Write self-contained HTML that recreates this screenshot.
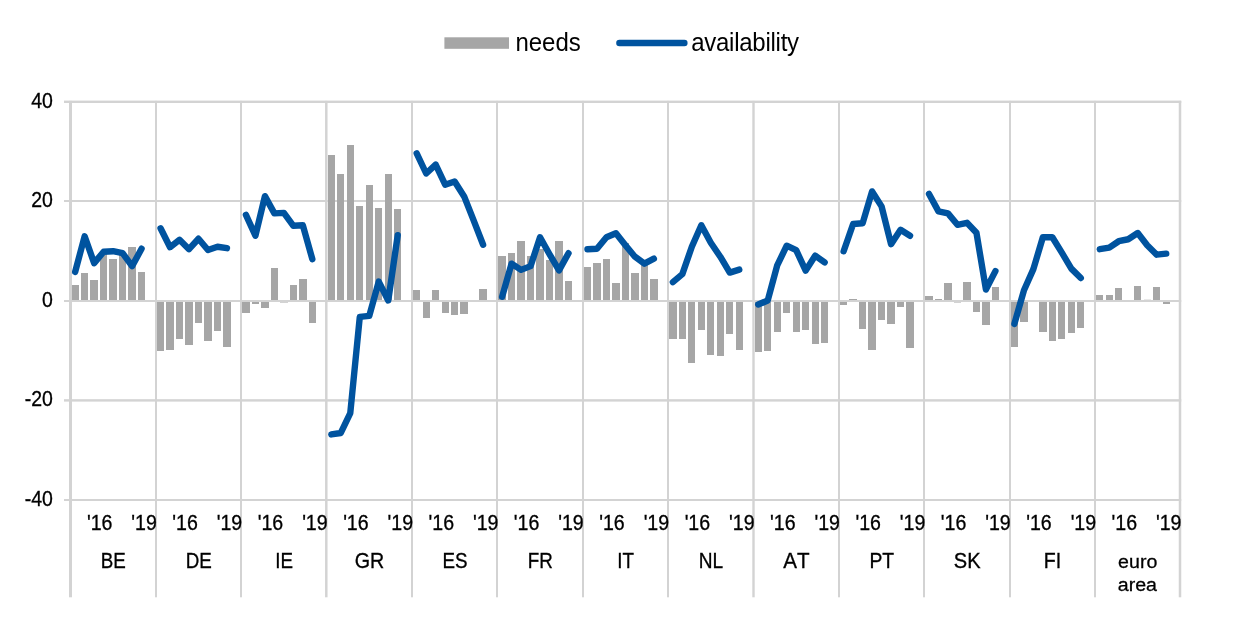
<!DOCTYPE html>
<html lang="en"><head><meta charset="utf-8"><title>needs / availability</title>
<style>html,body{margin:0;padding:0;background:#fff;}body{width:1240px;height:638px;overflow:hidden;}svg{display:block;will-change:transform;}text{font-family:"Liberation Sans",Arial,Helvetica,sans-serif;fill:#000;font-kerning:none;}.ax{font-size:20px;stroke:#000;stroke-width:0.3px;}.lg{font-size:24px;}</style></head><body>
<svg width="1240" height="638" viewBox="0 0 1240 638">
<rect x="0" y="0" width="1240" height="638" fill="#ffffff"/>
<g fill="#d3d3d3">
<rect x="64" y="100.60" width="1117.25" height="2.4"/>
<rect x="64" y="200.00" width="1117.25" height="2.0"/>
<rect x="64" y="300.00" width="1117.25" height="2.0"/>
<rect x="64" y="399.20" width="1117.25" height="2.4"/>
<rect x="64" y="499.00" width="1117.25" height="2.0"/>
<rect x="69.00" y="100.90" width="3.0" height="496.40"/>
<rect x="155.00" y="100.90" width="2" height="496.40"/>
<rect x="240.00" y="100.90" width="2" height="496.40"/>
<rect x="325.05" y="100.90" width="2.5" height="496.40"/>
<rect x="411.00" y="100.90" width="2" height="496.40"/>
<rect x="496.00" y="100.90" width="2" height="496.40"/>
<rect x="582.00" y="100.90" width="2" height="496.40"/>
<rect x="667.00" y="100.90" width="2" height="496.40"/>
<rect x="752.30" y="100.90" width="2.4" height="496.40"/>
<rect x="838.00" y="100.90" width="2" height="496.40"/>
<rect x="923.00" y="100.90" width="2" height="496.40"/>
<rect x="1009.00" y="100.90" width="2" height="496.40"/>
<rect x="1094.00" y="100.90" width="2" height="496.40"/>
<rect x="1178.75" y="100.90" width="2.5" height="496.40"/>
</g>
<g fill="#a6a6a6">
<rect x="72" y="285" width="7" height="15"/>
<rect x="81" y="273" width="7" height="27"/>
<rect x="90" y="280" width="8" height="20"/>
<rect x="100" y="254" width="7" height="46"/>
<rect x="109" y="259" width="8" height="41"/>
<rect x="119" y="254" width="7" height="46"/>
<rect x="128" y="247" width="8" height="53"/>
<rect x="138" y="272" width="7" height="28"/>
<rect x="157" y="302" width="7" height="49"/>
<rect x="166" y="302" width="8" height="48"/>
<rect x="176" y="302" width="7" height="37"/>
<rect x="185" y="302" width="8" height="43"/>
<rect x="195" y="302" width="7" height="21"/>
<rect x="204" y="302" width="8" height="39"/>
<rect x="214" y="302" width="7" height="29"/>
<rect x="223" y="302" width="8" height="45"/>
<rect x="242" y="302" width="8" height="11"/>
<rect x="252" y="302" width="7" height="2"/>
<rect x="261" y="302" width="8" height="6"/>
<rect x="271" y="268" width="7" height="32"/>
<rect x="280" y="302" width="8" height="0.494"/>
<rect x="290" y="285" width="7" height="15"/>
<rect x="299" y="279" width="8" height="21"/>
<rect x="309" y="302" width="7" height="21"/>
<rect x="328" y="155" width="7" height="145"/>
<rect x="337" y="174" width="7" height="126"/>
<rect x="347" y="145" width="7" height="155"/>
<rect x="356" y="206" width="7" height="94"/>
<rect x="366" y="185" width="7" height="115"/>
<rect x="375" y="208" width="7" height="92"/>
<rect x="385" y="174" width="7" height="126"/>
<rect x="394" y="209" width="7" height="91"/>
<rect x="413" y="290" width="7" height="10"/>
<rect x="423" y="302" width="7" height="16"/>
<rect x="432" y="290" width="7" height="10"/>
<rect x="442" y="302" width="7" height="11"/>
<rect x="451" y="302" width="7" height="13"/>
<rect x="460" y="302" width="8" height="12"/>
<rect x="479" y="289" width="8" height="11"/>
<rect x="498" y="256" width="8" height="44"/>
<rect x="508" y="253" width="7" height="47"/>
<rect x="517" y="241" width="8" height="59"/>
<rect x="527" y="256" width="7" height="44"/>
<rect x="536" y="249" width="8" height="51"/>
<rect x="546" y="260" width="7" height="40"/>
<rect x="555" y="241" width="8" height="59"/>
<rect x="565" y="281" width="7" height="19"/>
<rect x="584" y="267" width="7" height="33"/>
<rect x="593" y="263" width="8" height="37"/>
<rect x="603" y="259" width="7" height="41"/>
<rect x="612" y="283" width="8" height="17"/>
<rect x="622" y="243" width="7" height="57"/>
<rect x="631" y="273" width="8" height="27"/>
<rect x="641" y="265" width="7" height="35"/>
<rect x="650" y="279" width="8" height="21"/>
<rect x="669" y="302" width="8" height="37"/>
<rect x="679" y="302" width="7" height="37"/>
<rect x="688" y="302" width="7" height="61"/>
<rect x="698" y="302" width="7" height="28"/>
<rect x="707" y="302" width="7" height="53"/>
<rect x="717" y="302" width="7" height="54"/>
<rect x="726" y="302" width="7" height="32"/>
<rect x="736" y="302" width="7" height="48"/>
<rect x="755" y="302" width="7" height="50"/>
<rect x="764" y="302" width="7" height="49"/>
<rect x="774" y="302" width="7" height="30"/>
<rect x="783" y="302" width="7" height="11"/>
<rect x="793" y="302" width="7" height="30"/>
<rect x="802" y="302" width="7" height="28"/>
<rect x="812" y="302" width="7" height="42"/>
<rect x="821" y="302" width="7" height="41"/>
<rect x="840" y="302" width="7" height="3"/>
<rect x="849" y="299" width="8" height="1"/>
<rect x="859" y="302" width="7" height="27"/>
<rect x="868" y="302" width="8" height="48"/>
<rect x="878" y="302" width="7" height="18"/>
<rect x="887" y="302" width="8" height="22"/>
<rect x="897" y="302" width="7" height="5"/>
<rect x="906" y="302" width="8" height="46"/>
<rect x="925" y="296" width="8" height="4"/>
<rect x="935" y="299" width="7" height="1"/>
<rect x="944" y="283" width="8" height="17"/>
<rect x="954" y="302" width="7" height="0.494"/>
<rect x="963" y="282" width="8" height="18"/>
<rect x="973" y="302" width="7" height="10"/>
<rect x="982" y="302" width="8" height="23"/>
<rect x="992" y="287" width="7" height="13"/>
<rect x="1011" y="302" width="7" height="45"/>
<rect x="1020" y="302" width="8" height="20"/>
<rect x="1039" y="302" width="8" height="30"/>
<rect x="1049" y="302" width="7" height="39"/>
<rect x="1058" y="302" width="7" height="37"/>
<rect x="1068" y="302" width="7" height="31"/>
<rect x="1077" y="302" width="7" height="26"/>
<rect x="1096" y="295" width="7" height="5"/>
<rect x="1106" y="295" width="7" height="5"/>
<rect x="1115" y="288" width="7" height="12"/>
<rect x="1134" y="286" width="7" height="14"/>
<rect x="1144" y="299.755" width="7" height="0.245"/>
<rect x="1153" y="287" width="7" height="13"/>
<rect x="1163" y="302" width="7" height="2"/>
</g>
<g stroke="#00539f" stroke-width="6.4" fill="none" stroke-linecap="round" stroke-linejoin="round">
<polyline points="75.16,271.87 84.65,236.26 94.14,263.15 103.63,251.70 113.11,251.20 122.60,253.19 132.09,266.14 141.57,248.71"/>
<polyline points="160.55,228.29 170.04,247.22 179.52,239.75 189.01,249.21 198.50,238.75 207.98,249.95 217.47,246.72 226.96,248.21"/>
<polyline points="245.93,214.85 255.42,235.76 264.91,196.17 274.39,213.35 283.88,212.85 293.37,225.80 302.86,225.30 312.34,259.17"/>
<polyline points="331.32,434.46 340.80,432.97 350.29,413.05 359.78,316.94 369.27,315.94 378.75,281.58 388.24,300.50 397.73,235.26"/>
<polyline points="416.70,153.34 426.19,173.51 435.68,164.55 445.16,184.72 454.65,181.48 464.14,196.42 473.63,220.32 483.11,244.73"/>
<polyline points="502.09,296.77 511.57,263.65 521.06,269.88 530.55,266.14 540.04,237.26 549.52,254.19 559.01,270.37 568.50,253.19"/>
<polyline points="587.47,249.21 596.96,248.71 606.45,237.26 615.93,233.27 625.42,245.22 634.91,256.68 644.39,263.65 653.88,258.67"/>
<polyline points="672.86,282.08 682.34,274.11 691.83,246.72 701.32,225.30 710.80,242.73 720.29,256.68 729.78,272.61 739.27,269.63"/>
<polyline points="758.24,304.49 767.73,300.50 777.21,265.39 786.70,245.72 796.19,250.20 805.68,270.62 815.16,255.68 824.65,262.40"/>
<polyline points="843.63,251.20 853.11,224.06 862.60,223.31 872.09,191.44 881.57,206.38 891.06,244.23 900.55,229.79 910.04,235.76"/>
<polyline points="929.01,193.93 938.50,211.36 947.98,213.35 957.47,224.81 966.96,222.81 976.45,232.77 985.93,289.55 995.42,271.12"/>
<polyline points="1014.39,323.91 1023.88,290.54 1033.37,269.13 1042.86,237.26 1052.34,237.26 1061.83,252.69 1071.32,268.63 1080.80,278.09"/>
<polyline points="1099.78,249.21 1109.27,247.71 1118.75,241.24 1128.24,239.25 1137.73,233.02 1147.21,245.22 1156.70,254.69 1166.19,253.69"/>
</g>
<text class="ax" transform="translate(52.9,107.8) scale(0.975,1.06)" text-anchor="end">40</text>
<text class="ax" transform="translate(52.9,207.0) scale(0.975,1.06)" text-anchor="end">20</text>
<text class="ax" transform="translate(52.9,307.0) scale(0.975,1.06)" text-anchor="end">0</text>
<text class="ax" transform="translate(52.9,406.4) scale(0.975,1.06)" text-anchor="end">-20</text>
<text class="ax" transform="translate(52.9,506.0) scale(0.975,1.06)" text-anchor="end">-40</text>
<text class="ax" transform="translate(99.7,529.6) scale(0.98,1.06)" text-anchor="middle">'16</text>
<text class="ax" transform="translate(144.1,529.6) scale(0.98,1.06)" text-anchor="middle">'19</text>
<text class="ax" transform="translate(113.3,567.7) scale(0.94,1.06)" text-anchor="middle">BE</text>
<text class="ax" transform="translate(185.1,529.6) scale(0.98,1.06)" text-anchor="middle">'16</text>
<text class="ax" transform="translate(229.5,529.6) scale(0.98,1.06)" text-anchor="middle">'19</text>
<text class="ax" transform="translate(198.7,567.7) scale(0.94,1.06)" text-anchor="middle">DE</text>
<text class="ax" transform="translate(270.5,529.6) scale(0.98,1.06)" text-anchor="middle">'16</text>
<text class="ax" transform="translate(314.9,529.6) scale(0.98,1.06)" text-anchor="middle">'19</text>
<text class="ax" transform="translate(284.1,567.7) scale(0.94,1.06)" text-anchor="middle">IE</text>
<text class="ax" transform="translate(355.9,529.6) scale(0.98,1.06)" text-anchor="middle">'16</text>
<text class="ax" transform="translate(400.3,529.6) scale(0.98,1.06)" text-anchor="middle">'19</text>
<text class="ax" transform="translate(369.5,567.7) scale(0.985,1.06)" text-anchor="middle">GR</text>
<text class="ax" transform="translate(441.3,529.6) scale(0.98,1.06)" text-anchor="middle">'16</text>
<text class="ax" transform="translate(485.7,529.6) scale(0.98,1.06)" text-anchor="middle">'19</text>
<text class="ax" transform="translate(454.9,567.7) scale(0.94,1.06)" text-anchor="middle">ES</text>
<text class="ax" transform="translate(526.6,529.6) scale(0.98,1.06)" text-anchor="middle">'16</text>
<text class="ax" transform="translate(571.0,529.6) scale(0.98,1.06)" text-anchor="middle">'19</text>
<text class="ax" transform="translate(540.2,567.7) scale(0.94,1.06)" text-anchor="middle">FR</text>
<text class="ax" transform="translate(612.0,529.6) scale(0.98,1.06)" text-anchor="middle">'16</text>
<text class="ax" transform="translate(656.4,529.6) scale(0.98,1.06)" text-anchor="middle">'19</text>
<text class="ax" transform="translate(625.6,567.7) scale(0.94,1.06)" text-anchor="middle">IT</text>
<text class="ax" transform="translate(697.4,529.6) scale(0.98,1.06)" text-anchor="middle">'16</text>
<text class="ax" transform="translate(741.8,529.6) scale(0.98,1.06)" text-anchor="middle">'19</text>
<text class="ax" transform="translate(711.0,567.7) scale(0.956,1.06)" text-anchor="middle">NL</text>
<text class="ax" transform="translate(782.8,529.6) scale(0.98,1.06)" text-anchor="middle">'16</text>
<text class="ax" transform="translate(827.2,529.6) scale(0.98,1.06)" text-anchor="middle">'19</text>
<text class="ax" transform="translate(796.4,567.7) scale(1.03,1.06)" text-anchor="middle">AT</text>
<text class="ax" transform="translate(868.2,529.6) scale(0.98,1.06)" text-anchor="middle">'16</text>
<text class="ax" transform="translate(912.6,529.6) scale(0.98,1.06)" text-anchor="middle">'19</text>
<text class="ax" transform="translate(881.8,567.7) scale(0.967,1.06)" text-anchor="middle">PT</text>
<text class="ax" transform="translate(953.6,529.6) scale(0.98,1.06)" text-anchor="middle">'16</text>
<text class="ax" transform="translate(998.0,529.6) scale(0.98,1.06)" text-anchor="middle">'19</text>
<text class="ax" transform="translate(967.2,567.7) scale(1.005,1.06)" text-anchor="middle">SK</text>
<text class="ax" transform="translate(1039.0,529.6) scale(0.98,1.06)" text-anchor="middle">'16</text>
<text class="ax" transform="translate(1083.4,529.6) scale(0.98,1.06)" text-anchor="middle">'19</text>
<text class="ax" transform="translate(1052.5,567.7) scale(0.98,1.06)" text-anchor="middle">FI</text>
<text class="ax" transform="translate(1124.3,529.6) scale(0.98,1.06)" text-anchor="middle">'16</text>
<text class="ax" transform="translate(1168.7,529.6) scale(0.98,1.06)" text-anchor="middle">'19</text>
<text class="ax" transform="translate(1137.7,567.7) scale(0.98,0.95)" text-anchor="middle">euro</text>
<text class="ax" transform="translate(1137.4,590.8) scale(0.98,0.95)" text-anchor="middle">area</text>
<rect x="444.4" y="37.3" width="64.6" height="11.5" fill="#a6a6a6"/>
<text class="lg" transform="translate(515.4,50.8) scale(1.0,1.04)">needs</text>
<line x1="619.4" x2="684.4" y1="43" y2="43" stroke="#00539f" stroke-width="6.4" stroke-linecap="round"/>
<text class="lg" transform="translate(691.2,50.8) scale(1.0,1.04)" letter-spacing="-0.25">availability</text>
</svg></body></html>
